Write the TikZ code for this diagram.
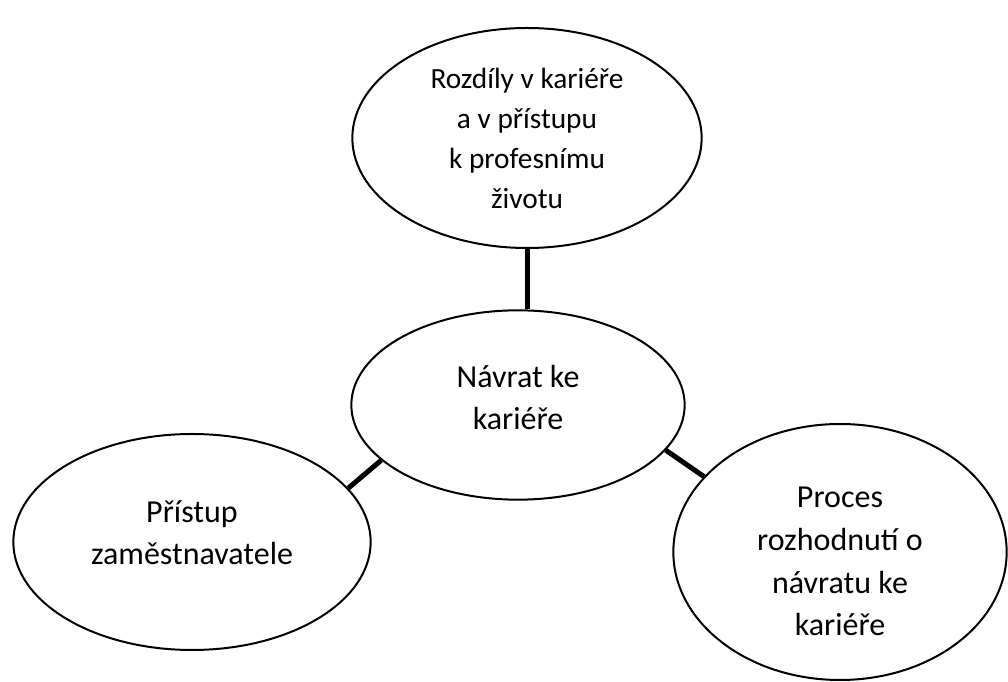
\documentclass[tikz,border=0pt]{standalone}
\usepackage{fontspec}
\setmainfont{Carlito}
\usetikzlibrary{shapes.geometric,positioning}

\begin{document}
\begin{tikzpicture}[
      x=0.75pt, y=0.75pt,
      bubble/.style={draw, ellipse, line width=1.5pt, align=center, inner sep=0pt,
                     font=\fontsize{24}{31.5}\selectfont},
      smallbubble/.style={bubble, font=\fontsize{22}{30}\selectfont},
      link/.style={line width=3.75pt}
    ]
    \useasboundingbox (0,0) rectangle (1008,682);

    \node[smallbubble, minimum width=262pt, minimum height=165pt] (diff)  at (527,544)
      {Rozdíly v kariéře\\a v přístupu\\k profesnímu\\životu};
    \node[bubble, minimum width=250pt, minimum height=142pt] (return) at (518,277)
      {Návrat ke\\kariéře\\[-20pt]};
    \node[bubble, minimum width=268pt, minimum height=162pt] (employer) at (192,140)
      {Přístup\\zaměstnavatele\\[-17.5pt]};
    \node[bubble, font=\fontsize{24}{32}\selectfont,
          minimum width=250pt, minimum height=192pt] (decision) at (840,130)
      {\\[-2pt]Proces\\rozhodnutí o\\návratu ke\\kariéře};

    \draw[link] (diff.south) -- (diff.south |- return.north);
    \draw[link] (return.202) -- (employer.19);
    \draw[link] (return.343) -- (decision.151);
  \end{tikzpicture}
\end{document}
